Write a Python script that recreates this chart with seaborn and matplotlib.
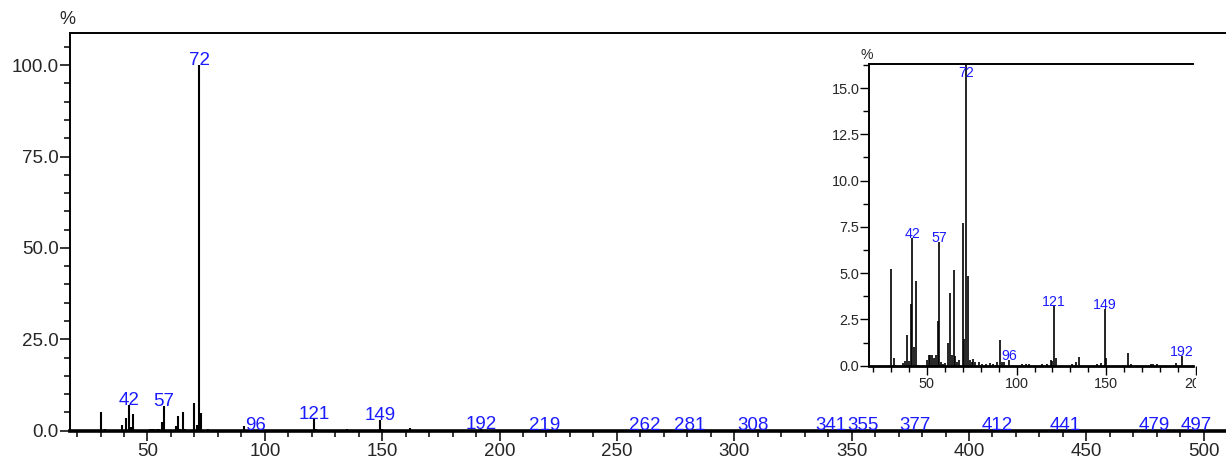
import matplotlib
matplotlib.use("Agg")
import matplotlib.pyplot as plt
from matplotlib.ticker import MultipleLocator, FormatStrFormatter
from matplotlib.transforms import Bbox, TransformedBbox
import seaborn as sns

# m/z and relative intensity (%)
mz = [30, 32, 37, 38, 39, 40, 41, 42, 43, 44, 45,
      50, 51, 52, 53, 54, 55, 56, 57, 58, 59, 60,
      62, 63, 64, 65, 66, 67, 68, 70, 71, 72, 73, 74,
      75, 76, 77, 79, 81, 83, 85, 87, 89, 91, 92, 93, 96,
      103, 105, 107, 114, 117, 119, 120, 121, 122,
      131, 133, 135, 145, 147, 149, 150, 162, 164,
      175, 176, 178, 189, 192,
      219, 262, 281, 308, 341, 355, 377, 412, 441, 479, 497]
intensity = [5.2, 0.4, 0.15, 0.25, 1.65, 0.25, 3.35, 6.9, 1.0, 4.55, 0.05,
             0.3, 0.6, 0.6, 0.6, 0.4, 0.6, 2.4, 6.7, 0.2, 0.1, 0.15,
             1.2, 3.95, 0.6, 5.15, 0.5, 0.2, 0.3, 7.7, 1.45, 100.0, 4.85, 0.3,
             0.2, 0.35, 0.2, 0.2, 0.1, 0.1, 0.15, 0.1, 0.2, 1.38, 0.2, 0.2, 0.3,
             0.1, 0.1, 0.1, 0.1, 0.1, 0.3, 0.25, 3.2, 0.4,
             0.1, 0.2, 0.45, 0.1, 0.15, 3.05, 0.4, 0.7, 0.1,
             0.1, 0.1, 0.1, 0.15, 0.52,
             0.15, 0.12, 0.12, 0.12, 0.1, 0.1, 0.12, 0.1, 0.1, 0.1, 0.1]

main_labels = [42, 57, 72, 96, 121, 149, 192, 219, 262, 281, 308,
               341, 355, 377, 412, 441, 479, 497]
inset_labels = [42, 57, 72, 96, 121, 149, 192]

main_xlim = (17, 509.5)
main_ylim = (0, 108.7)
inset_xlim = (18, 201)
inset_right = 198.1
inset_ylim = (0, 16.3)

sns.set_theme(style="ticks")
plt.rcParams["font.family"] = ["Liberation Sans", "DejaVu Sans"]

label_color = "#1a1aff"
W, H = 1226, 459

fig = plt.figure(figsize=(W / 100, H / 100), dpi=100)
peaks = dict(zip(mz, intensity))


def style_axes(ax, lw_bottom):
    for side in ["top", "left"]:
        ax.spines[side].set_linewidth(1.4)
        ax.spines[side].set_color("black")
    ax.spines["bottom"].set_linewidth(lw_bottom)
    ax.spines["bottom"].set_color("black")
    ax.spines["right"].set_visible(False)
    ax.set_facecolor("white")


# main spectrum
ax = fig.add_axes([70 / W, 1 - 430.7 / H, (W - 70) / W, (430.7 - 33.3) / H])
ax.vlines(mz, 0, intensity, color="black", linewidth=1.5)
ax.set_xlim(*main_xlim)
ax.set_ylim(*main_ylim)
style_axes(ax, 2.6)
ax.xaxis.set_major_locator(MultipleLocator(50))
ax.xaxis.set_minor_locator(MultipleLocator(10))
ax.yaxis.set_major_locator(MultipleLocator(25))
ax.yaxis.set_minor_locator(MultipleLocator(5))
ax.yaxis.set_major_formatter(FormatStrFormatter("%.1f"))
ax.tick_params(which="major", length=7.5, width=1.1, labelsize=13.5, color="black")
ax.tick_params(which="minor", length=4.5, width=1.1, color="black")
ax.tick_params(axis="y", pad=0.5)
ax.tick_params(axis="x", pad=1)
ax.set_xticks([t for t in range(50, 501, 50)])
for m in main_labels:
    ax.text(m, peaks[m], str(m), color=label_color, fontsize=13.5,
            ha="center", va="baseline")
fig.text(67 / W, 1 - 20 / H, "%", fontsize=13, ha="center", va="center")

# zoomed inset
x0, x1 = 869.3, 1192.7
px_per_unit = (x1 - x0) / (inset_right - inset_xlim[0])
full_w = (inset_xlim[1] - inset_xlim[0]) * px_per_unit
ax_in = fig.add_axes([x0 / W, 1 - 365.7 / H, full_w / W, (365.7 - 64) / H])
ax_in.vlines(mz, 0, intensity, color="black", linewidth=1.2)
ax_in.set_xlim(*inset_xlim)
ax_in.set_ylim(*inset_ylim)
style_axes(ax_in, 2.0)
ax_in.spines["top"].set_bounds(inset_xlim[0], inset_right)
ax_in.spines["bottom"].set_bounds(inset_xlim[0], inset_right)
ax_in.set_xticks([50, 100, 150, 200])
ax_in.xaxis.set_minor_locator(MultipleLocator(10))
ax_in.yaxis.set_major_locator(MultipleLocator(2.5))
ax_in.yaxis.set_minor_locator(MultipleLocator(1.25))
ax_in.yaxis.set_major_formatter(FormatStrFormatter("%.1f"))
ax_in.tick_params(which="major", length=6.5, width=1.0, labelsize=10.4, color="black")
ax_in.tick_params(which="minor", length=4, width=1.0, color="black")
ax_in.tick_params(axis="y", pad=0.5)
ax_in.tick_params(axis="x", pad=1.5)

# the reference cuts the inset off just right of x=198, clipping the "200" label
clip = TransformedBbox(Bbox([[0.6, 0.0], [1195.5 / W, 1.0]]), fig.transFigure)
for tick in ax_in.xaxis.get_major_ticks() + ax_in.xaxis.get_minor_ticks():
    tick.label1.set_clip_box(clip)
    tick.label1.set_clip_on(True)
    tick.tick1line.set_clip_box(clip)
    tick.tick1line.set_clip_on(True)

for m in inset_labels:
    h = peaks[m]
    if h > inset_ylim[1]:
        ax_in.text(m, inset_ylim[1] - 0.1, str(m), color=label_color,
                   fontsize=10.2, ha="center", va="top")
    else:
        ax_in.text(m, h, str(m), color=label_color, fontsize=10.2,
                   ha="center", va="baseline")
fig.text(866.7 / W, 1 - 55 / H, "%", fontsize=10.2, ha="center", va="center")

fig.savefig("out.png", dpi=100, facecolor="white")
